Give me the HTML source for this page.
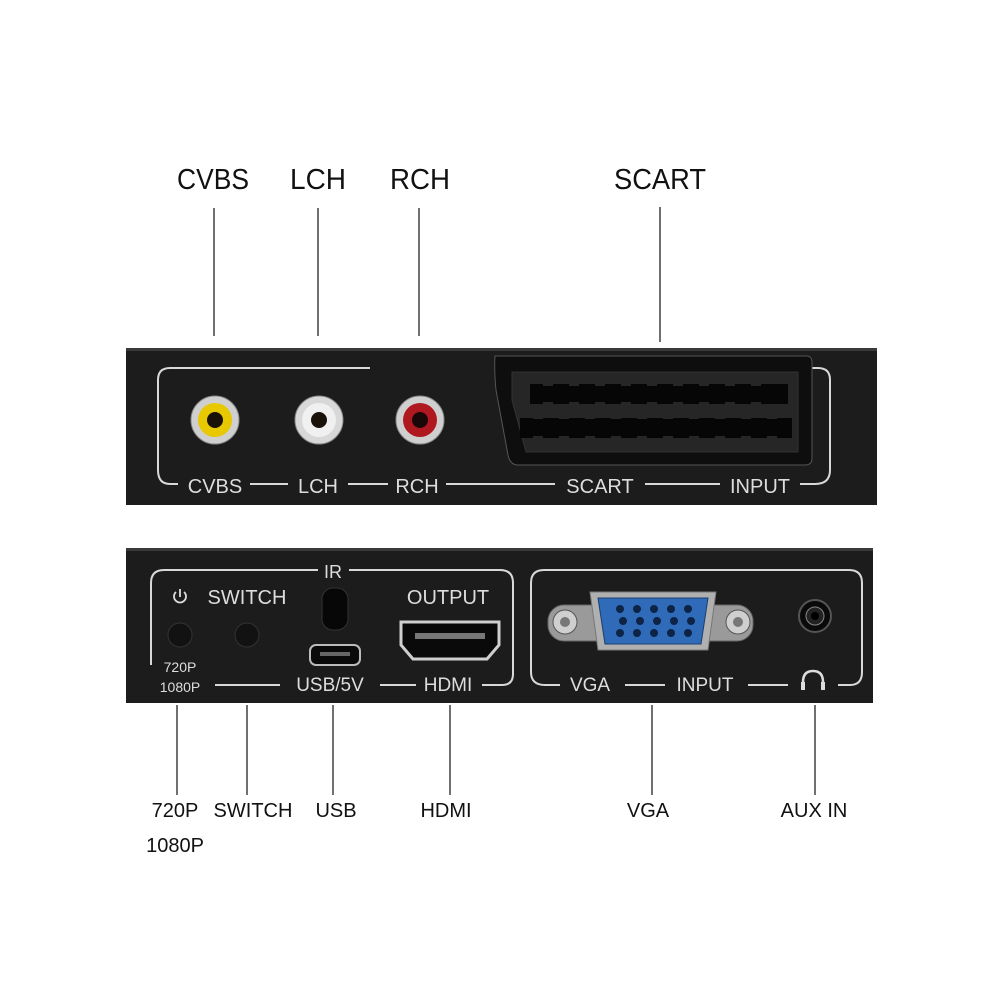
<!DOCTYPE html>
<html><head><style>body{margin:0;background:#fff}svg{display:block}</style></head><body>
<svg width="1000" height="1000" viewBox="0 0 1000 1000" xmlns="http://www.w3.org/2000/svg" font-family="Liberation Sans, sans-serif">
<rect width="1000" height="1000" fill="#fff"/>
<g font-size="29" fill="#111" text-anchor="middle">
<text x="213" y="189" textLength="72" lengthAdjust="spacingAndGlyphs">CVBS</text><text x="318" y="189" textLength="56" lengthAdjust="spacingAndGlyphs">LCH</text><text x="420" y="189" textLength="60" lengthAdjust="spacingAndGlyphs">RCH</text><text x="660" y="189" textLength="92" lengthAdjust="spacingAndGlyphs">SCART</text>
</g>
<g stroke="#222" stroke-width="1.3">
<line x1="214" y1="208" x2="214" y2="336"/><line x1="318" y1="208" x2="318" y2="336"/><line x1="419" y1="208" x2="419" y2="336"/><line x1="660" y1="207" x2="660" y2="342"/>
<line x1="177" y1="705" x2="177" y2="795"/><line x1="247" y1="705" x2="247" y2="795"/><line x1="333" y1="705" x2="333" y2="795"/><line x1="450" y1="705" x2="450" y2="795"/><line x1="652" y1="705" x2="652" y2="795"/><line x1="815" y1="705" x2="815" y2="795"/>
</g>
<g font-size="20" fill="#111" text-anchor="middle">
<text x="175" y="817">720P</text><text x="175" y="852">1080P</text><text x="253" y="817">SWITCH</text><text x="336" y="817">USB</text><text x="446" y="817">HDMI</text><text x="648" y="817">VGA</text><text x="814" y="817">AUX IN</text>
</g>
<rect x="126" y="348" width="751" height="157" fill="#1c1c1c"/>
<rect x="126" y="348" width="751" height="3" fill="#3a3a3a"/>
<g stroke="#d8d8d8" stroke-width="2" fill="none">
<path d="M370 368 H170 Q158 368 158 380 V470 Q158 484 170 484 H178"/>
<path d="M250 484 H288 M348 484 H388 M446 484 H555 M645 484 H720 M800 484 H815 Q830 484 830 470 V380 Q830 368 818 368 H812"/>
</g>
<g font-size="20" fill="#ddd" text-anchor="middle">
<text x="215" y="493">CVBS</text><text x="318" y="493">LCH</text><text x="417" y="493">RCH</text><text x="600" y="493">SCART</text><text x="760" y="493">INPUT</text>
</g>
<g>
<circle cx="215" cy="420" r="24" fill="#cfcfcf" stroke="#888"/><circle cx="215" cy="420" r="17" fill="#e8c800"/><circle cx="215" cy="420" r="8" fill="#1a1208"/>
<circle cx="319" cy="420" r="24" fill="#d8d8d8" stroke="#888"/><circle cx="319" cy="420" r="17" fill="#f0f0f0"/><circle cx="319" cy="420" r="8" fill="#1a1208"/>
<circle cx="420" cy="420" r="24" fill="#cfcfcf" stroke="#888"/><circle cx="420" cy="420" r="17" fill="#b01820"/><circle cx="420" cy="420" r="8" fill="#1a0808"/>
</g>
<path d="M495 356 H806 Q812 356 812 362 V458 Q812 465 805 465 H518 Q510 465 508 455 L496 390 Q494 370 495 356 Z" fill="#0e0e0e" stroke="#555"/>
<path d="M512 372 H798 V452 H526 L512 400 Z" fill="#262626" stroke="#333"/>
<g fill="#060606">
<rect x="530" y="384" width="258" height="20"/>
<rect x="520" y="418" width="272" height="20"/>
</g>
<g fill="#262626">
<rect x="543" y="380" width="10" height="6"/><rect x="569" y="380" width="10" height="6"/><rect x="595" y="380" width="10" height="6"/><rect x="621" y="380" width="10" height="6"/><rect x="647" y="380" width="10" height="6"/><rect x="673" y="380" width="10" height="6"/><rect x="699" y="380" width="10" height="6"/><rect x="725" y="380" width="10" height="6"/><rect x="751" y="380" width="10" height="6"/>
<rect x="543" y="402" width="10" height="3"/><rect x="569" y="402" width="10" height="3"/><rect x="595" y="402" width="10" height="3"/><rect x="621" y="402" width="10" height="3"/><rect x="647" y="402" width="10" height="3"/><rect x="673" y="402" width="10" height="3"/><rect x="699" y="402" width="10" height="3"/><rect x="725" y="402" width="10" height="3"/><rect x="751" y="402" width="10" height="3"/>
<rect x="533" y="414" width="10" height="5"/><rect x="559" y="414" width="10" height="5"/><rect x="585" y="414" width="10" height="5"/><rect x="611" y="414" width="10" height="5"/><rect x="637" y="414" width="10" height="5"/><rect x="663" y="414" width="10" height="5"/><rect x="689" y="414" width="10" height="5"/><rect x="715" y="414" width="10" height="5"/><rect x="741" y="414" width="10" height="5"/><rect x="767" y="414" width="10" height="5"/>
<rect x="533" y="436" width="10" height="4"/><rect x="559" y="436" width="10" height="4"/><rect x="585" y="436" width="10" height="4"/><rect x="611" y="436" width="10" height="4"/><rect x="637" y="436" width="10" height="4"/><rect x="663" y="436" width="10" height="4"/><rect x="689" y="436" width="10" height="4"/><rect x="715" y="436" width="10" height="4"/><rect x="741" y="436" width="10" height="4"/><rect x="767" y="436" width="10" height="4"/>
</g>
<rect x="126" y="548" width="747" height="155" fill="#1c1c1c"/>
<rect x="126" y="548" width="747" height="3" fill="#3a3a3a"/>
<g stroke="#d8d8d8" stroke-width="2" fill="none">
<path d="M318 570 H164 Q151 570 151 583 V665"/>
<path d="M349 570 H500 Q513 570 513 583 V674 Q513 685 502 685 H482 M416 685 H380 M280 685 H215"/>
<path d="M560 685 H545 Q531 685 531 672 V583 Q531 570 544 570 H849 Q862 570 862 583 V672 Q862 685 850 685 H838 M788 685 H748 M665 685 H625"/>
</g>
<g fill="#ddd" text-anchor="middle">
<text x="333" y="578" font-size="18">IR</text>
<text x="247" y="604" font-size="20">SWITCH</text>
<text x="448" y="604" font-size="20">OUTPUT</text>
<text x="330" y="691" font-size="19">USB/5V</text>
<text x="448" y="691" font-size="19">HDMI</text>
<text x="590" y="691" font-size="19">VGA</text>
<text x="705" y="691" font-size="19">INPUT</text>
<text x="180" y="672" font-size="14">720P</text>
<text x="180" y="692" font-size="14">1080P</text>
</g>
<path d="M176 592 A6 6 0 1 0 184 592" fill="none" stroke="#ddd" stroke-width="1.8"/>
<line x1="180" y1="589" x2="180" y2="597" stroke="#ddd" stroke-width="1.8"/>
<path d="M803 690 V682 Q803 671 813 671 Q823 671 823 682 V690" fill="none" stroke="#ddd" stroke-width="2.5"/>
<rect x="801" y="682" width="4" height="8" fill="#ddd"/><rect x="821" y="682" width="4" height="8" fill="#ddd"/>
<circle cx="180" cy="635" r="12" fill="#121212" stroke="#333"/>
<circle cx="247" cy="635" r="12" fill="#121212" stroke="#333"/>
<rect x="322" y="588" width="26" height="42" rx="11" fill="#070707" stroke="#333"/>
<rect x="310" y="645" width="50" height="20" rx="6" fill="#0a0a0a" stroke="#bbb" stroke-width="2"/>
<rect x="320" y="652" width="30" height="4" fill="#666"/>
<path d="M401 622 H499 V645 L487 659 H413 L401 645 Z" fill="#0a0a0a" stroke="#cfcfcf" stroke-width="3"/>
<rect x="415" y="633" width="70" height="6" fill="#777"/>
<rect x="548" y="605" width="205" height="36" rx="16" fill="#9a9a9a" stroke="#666"/>
<circle cx="565" cy="622" r="12" fill="#cfcfcf" stroke="#555"/><circle cx="565" cy="622" r="5" fill="#777"/>
<circle cx="738" cy="622" r="12" fill="#cfcfcf" stroke="#555"/><circle cx="738" cy="622" r="5" fill="#777"/>
<path d="M590 592 H716 L708 650 H598 Z" fill="#b0b0b0" stroke="#777"/>
<path d="M598 598 H708 L701 644 H605 Z" fill="#2f6bb8" stroke="#1a3f70"/>
<g fill="#0d2446">
<circle cx="620" cy="609" r="4"/><circle cx="637" cy="609" r="4"/><circle cx="654" cy="609" r="4"/><circle cx="671" cy="609" r="4"/><circle cx="688" cy="609" r="4"/>
<circle cx="623" cy="621" r="4"/><circle cx="640" cy="621" r="4"/><circle cx="657" cy="621" r="4"/><circle cx="674" cy="621" r="4"/><circle cx="691" cy="621" r="4"/>
<circle cx="620" cy="633" r="4"/><circle cx="637" cy="633" r="4"/><circle cx="654" cy="633" r="4"/><circle cx="671" cy="633" r="4"/><circle cx="688" cy="633" r="4"/>
</g>
<circle cx="815" cy="616" r="16" fill="#0a0a0a" stroke="#555" stroke-width="2"/>
<circle cx="815" cy="616" r="9" fill="#222" stroke="#888"/>
<circle cx="815" cy="616" r="4" fill="#000"/>
</svg>
</body></html>
